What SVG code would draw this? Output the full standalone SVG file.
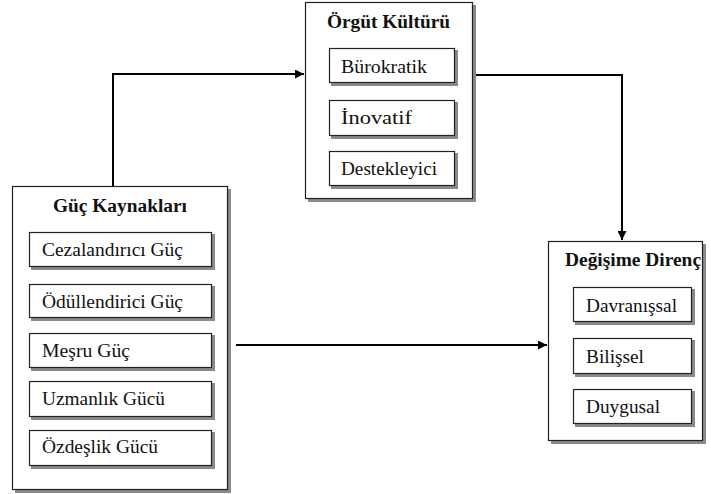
<svg xmlns="http://www.w3.org/2000/svg" width="711" height="494" viewBox="0 0 711 494">
<defs>
<marker id="arr" viewBox="0 0 10 10" refX="10" refY="5" markerWidth="9" markerHeight="9" markerUnits="userSpaceOnUse" orient="auto"><path d="M0,0 L10,5 L0,10 z" fill="#000"/></marker>
</defs>
<style>
.sh{fill:#8a8a8a}
.bx{fill:#fff;stroke:#222;stroke-width:1.2}
.t{font-family:'Liberation Serif','DejaVu Serif','Times New Roman',serif;font-size:18px;fill:#111}
.h{font-family:'Liberation Serif','DejaVu Serif','Times New Roman',serif;font-size:18px;font-weight:bold;fill:#111}
.c{fill:none;stroke:#000;stroke-width:2}
</style>
<rect width="711" height="494" fill="#fff"/>
<g id="connectors">
<polyline class="c" points="113,186 113,74 304,74" marker-end="url(#arr)"/>
<polyline class="c" points="473,75 622,75 622,240" marker-end="url(#arr)"/>
<line class="c" x1="236" y1="345" x2="547" y2="345" marker-end="url(#arr)"/>
</g>
<g id="orgut">
<rect class="sh" x="308" y="5" width="168" height="197"/>
<rect class="bx" x="305.5" y="2.5" width="167" height="196"/>
<text class="h" x="327" y="28" textLength="123" lengthAdjust="spacingAndGlyphs">Örgüt Kültürü</text>
<g id="burokratik"><rect class="sh" x="331" y="50" width="127" height="36"/><rect class="bx" x="329.5" y="48.5" width="125" height="34"/><text class="t" x="341" y="73" textLength="86" lengthAdjust="spacingAndGlyphs">Bürokratik</text></g>
<g id="inovatif"><rect class="sh" x="331" y="102" width="127" height="37"/><rect class="bx" x="329.5" y="100.5" width="125" height="35"/><text class="t" x="341" y="124" textLength="71" lengthAdjust="spacingAndGlyphs">İnovatif</text></g>
<g id="destekleyici"><rect class="sh" x="331" y="153" width="127" height="36"/><rect class="bx" x="329.5" y="151.5" width="125" height="34"/><text class="t" x="341" y="175" textLength="96" lengthAdjust="spacingAndGlyphs">Destekleyici</text></g>
</g>
<g id="guc">
<rect class="sh" x="15" y="189" width="216" height="304"/>
<rect class="bx" x="12.5" y="186.5" width="215" height="303"/>
<text class="h" x="53" y="212" textLength="134" lengthAdjust="spacingAndGlyphs">Güç Kaynakları</text>
<g id="ceza"><rect class="sh" x="31" y="234" width="184" height="36"/><rect class="bx" x="29.5" y="232.5" width="182" height="34"/><text class="t" x="42" y="256" textLength="141" lengthAdjust="spacingAndGlyphs">Cezalandırıcı Güç</text></g>
<g id="odul"><rect class="sh" x="31" y="286" width="184" height="35"/><rect class="bx" x="29.5" y="284.5" width="182" height="33"/><text class="t" x="42" y="308" textLength="141" lengthAdjust="spacingAndGlyphs">Ödüllendirici Güç</text></g>
<g id="mesru"><rect class="sh" x="31" y="335" width="184" height="36"/><rect class="bx" x="29.5" y="333.5" width="182" height="34"/><text class="t" x="42" y="357" textLength="88" lengthAdjust="spacingAndGlyphs">Meşru Güç</text></g>
<g id="uzmanlik"><rect class="sh" x="31" y="383" width="184" height="37"/><rect class="bx" x="29.5" y="381.5" width="182" height="35"/><text class="t" x="42" y="405" textLength="123" lengthAdjust="spacingAndGlyphs">Uzmanlık Gücü</text></g>
<g id="ozdeslik"><rect class="sh" x="31" y="432" width="184" height="37"/><rect class="bx" x="29.5" y="430.5" width="182" height="35"/><text class="t" x="42" y="453" textLength="116" lengthAdjust="spacingAndGlyphs">Özdeşlik Gücü</text></g>
</g>
<g id="direnc">
<rect class="sh" x="551" y="244" width="155" height="200"/>
<rect class="bx" x="548.5" y="241.5" width="154" height="199"/>
<text class="h" x="565" y="266" textLength="136" lengthAdjust="spacingAndGlyphs">Değişime Direnç</text>
<g id="davranissal"><rect class="sh" x="575" y="289" width="120" height="36"/><rect class="bx" x="573.5" y="287.5" width="118" height="34"/><text class="t" x="586" y="312" textLength="91" lengthAdjust="spacingAndGlyphs">Davranışsal</text></g>
<g id="bilissel"><rect class="sh" x="575" y="340" width="120" height="37"/><rect class="bx" x="573.5" y="338.5" width="118" height="35"/><text class="t" x="586" y="363" textLength="58" lengthAdjust="spacingAndGlyphs">Bilişsel</text></g>
<g id="duygusal"><rect class="sh" x="575" y="391" width="120" height="36"/><rect class="bx" x="573.5" y="389.5" width="118" height="34"/><text class="t" x="586" y="413" textLength="74" lengthAdjust="spacingAndGlyphs">Duygusal</text></g>
</g>
</svg>
